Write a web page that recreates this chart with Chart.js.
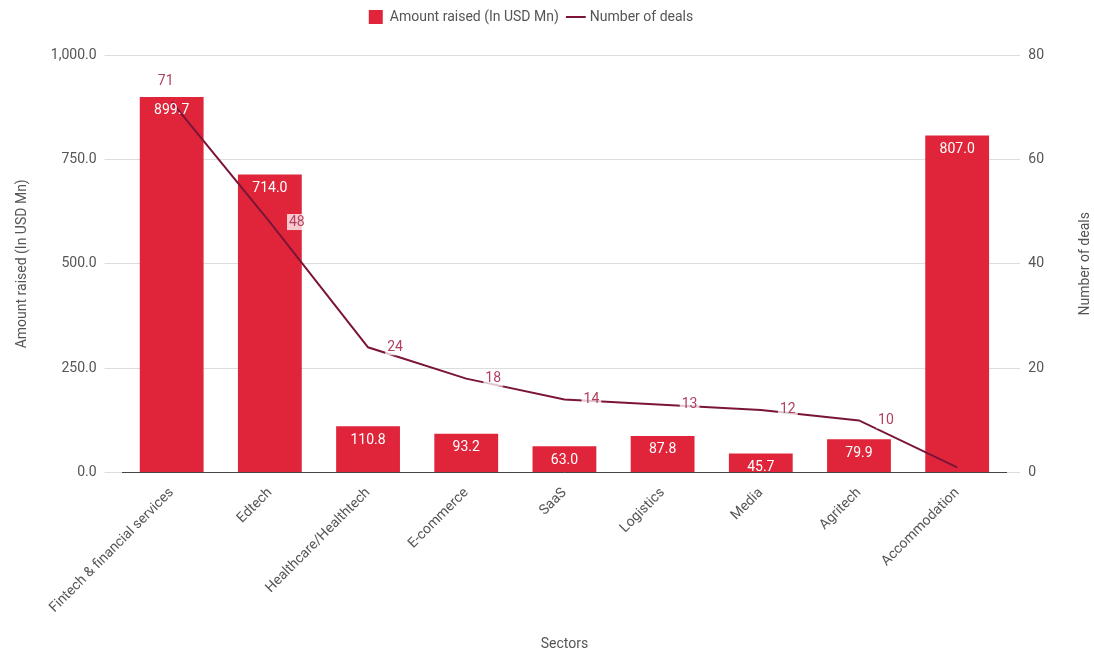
<!DOCTYPE html>
<html>
<head>
<meta charset="utf-8">
<script src="https://cdn.jsdelivr.net/npm/chart.js@4.4.1/dist/chart.umd.min.js"></script>
<style>
  html, body { margin: 0; padding: 0; background: #fff; }
  #wrap { width: 1094px; height: 653px; }
</style>
</head>
<body>
<div id="wrap"><canvas id="chart" width="1094" height="653"></canvas></div>
<script>
const sectors = ["Fintech & financial services", "Edtech", "Healthcare/Healthtech", "E-commerce", "SaaS", "Logistics", "Media", "Agritech", "Accommodation"];
const amountRaised = [899.7, 714.0, 110.8, 93.2, 63.0, 87.8, 45.7, 79.9, 807.0];
const numDeals = [71, 48, 24, 18, 14, 13, 12, 10, 1];
const leftTicks = [0, 250, 500, 750, 1000];
const rightTicks = [0, 20, 40, 60, 80];

const barColor = "#e0253b";
const lineColor = "#7a1538";
const font = "Roboto, 'Liberation Sans', sans-serif";
const textColor = "#555";

// extra room under the legend
const legendGap = {
  id: "legendGap",
  beforeInit(chart) {
    const fit = chart.legend.fit;
    chart.legend.fit = function () {
      fit.bind(chart.legend)();
      this.height += 21;
    };
  }
};

// value labels + right axis title
const labelPlugin = {
  id: "labels",
  afterDatasetsDraw(chart) {
    const ctx = chart.ctx;
    ctx.save();
    ctx.font = "14px " + font;
    ctx.textAlign = "center";
    ctx.textBaseline = "middle";

    chart.getDatasetMeta(0).data.forEach((bar, i) => {
      ctx.fillStyle = "#ffffff";
      ctx.fillText(amountRaised[i].toFixed(1), bar.x, bar.y + 14);
    });

    chart.getDatasetMeta(1).data.forEach((pt, i) => {
      if (numDeals[i] < 5) return;
      let x = pt.x + 27, y = pt.y;
      if (i === 0) { x = pt.x - 6; y = pt.y - 20; }
      const t = String(numDeals[i]);
      const w = ctx.measureText(t).width;
      ctx.fillStyle = "rgba(255,255,255,0.75)";
      ctx.fillRect(x - w / 2 - 2, y - 8, w + 4, 16);
      ctx.fillStyle = "#b0405e";
      ctx.fillText(t, x, y);
    });

    // right axis title reads bottom to top
    const area = chart.chartArea;
    ctx.translate(1085, (area.top + area.bottom) / 2);
    ctx.rotate(-Math.PI / 2);
    ctx.fillStyle = textColor;
    ctx.fillText("Number of deals", 0, 0);
    ctx.restore();
  }
};

new Chart(document.getElementById("chart"), {
  type: "bar",
  data: {
    labels: sectors,
    datasets: [
      {
        type: "bar",
        label: "Amount raised (In USD Mn)",
        data: amountRaised,
        backgroundColor: barColor,
        yAxisID: "y",
        barPercentage: 0.65,
        categoryPercentage: 1,
        pointStyle: "rect",
        order: 2,
      },
      {
        type: "line",
        label: "Number of deals",
        data: numDeals,
        borderColor: lineColor,
        backgroundColor: lineColor,
        borderWidth: 2,
        pointRadius: 0,
        tension: 0,
        yAxisID: "y1",
        pointStyle: "line",
        order: 1,
      },
    ],
  },
  options: {
    responsive: false,
    animation: false,
    layout: { padding: { left: 10, right: 42, top: 0, bottom: 0 } },
    plugins: {
      legend: {
        position: "top",
        labels: {
          usePointStyle: true,
          boxWidth: 14,
          boxHeight: 14,
          color: textColor,
          font: { family: font, size: 14 },
          padding: 10,
          sort: (a, b) => a.datasetIndex - b.datasetIndex,
        },
      },
      tooltip: { enabled: false },
    },
    scales: {
      x: {
        grid: { display: false },
        border: { color: "#444" },
        ticks: {
          color: textColor,
          font: { family: font, size: 14 },
          minRotation: 45,
          maxRotation: 45,
          padding: 4,
        },
        title: {
          display: true,
          text: "Sectors",
          color: textColor,
          font: { family: font, size: 14 },
          padding: { top: 16, bottom: 0 },
        },
      },
      y: {
        position: "left",
        min: 0,
        max: 1000,
        afterBuildTicks: (axis) => { axis.ticks = leftTicks.map((v) => ({ value: v })); },
        grid: { color: "#dddddd", tickLength: 18, tickColor: "#dddddd" },
        border: { display: false },
        ticks: {
          color: textColor,
          font: { family: font, size: 14 },
          padding: 8,
          callback: (v) => v.toLocaleString("en-US", { minimumFractionDigits: 1, maximumFractionDigits: 1 }),
        },
        title: {
          display: true,
          text: "Amount raised (In USD Mn)",
          color: textColor,
          font: { family: font, size: 14 },
          padding: { bottom: 12 },
        },
      },
      y1: {
        position: "right",
        min: 0,
        max: 80,
        afterBuildTicks: (axis) => { axis.ticks = rightTicks.map((v) => ({ value: v })); },
        grid: { drawOnChartArea: false, tickLength: 14, tickColor: "#dddddd" },
        border: { display: false },
        ticks: {
          color: textColor,
          font: { family: font, size: 14 },
          padding: 8,
        },
      },
    },
  },
  plugins: [legendGap, labelPlugin],
});
</script>
</body>
</html>
